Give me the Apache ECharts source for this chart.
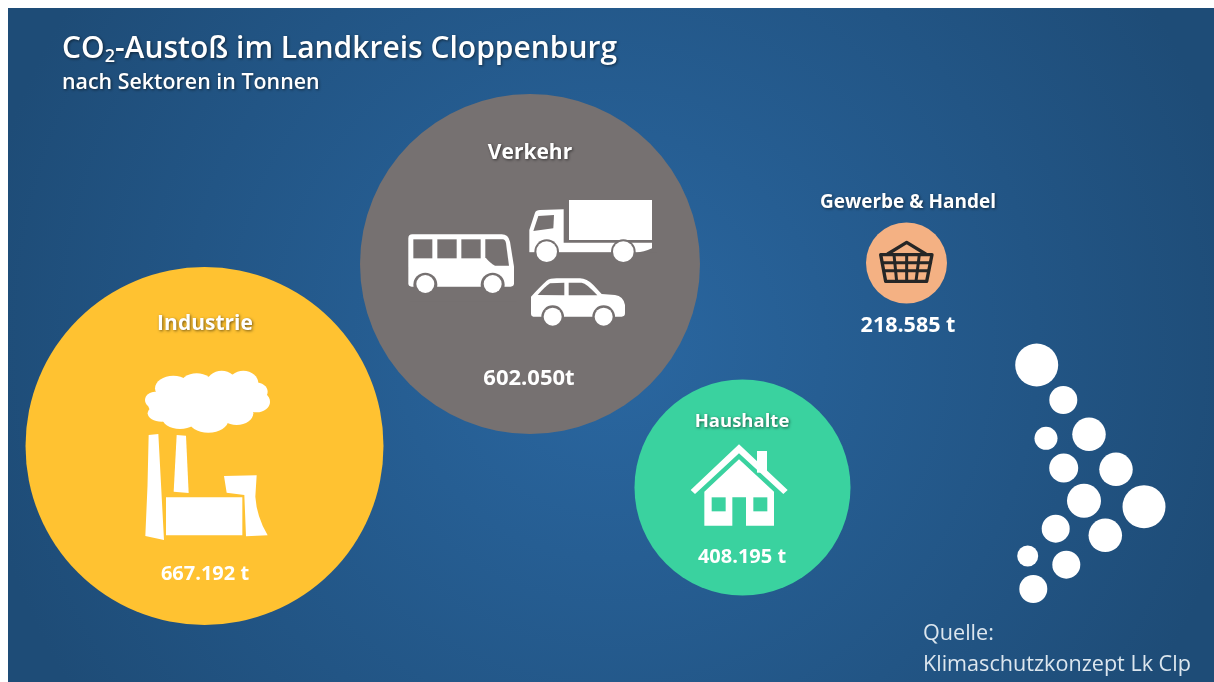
<!DOCTYPE html>
<html><head><meta charset="utf-8">
<style>html,body{margin:0;padding:0;background:#fff}#c{width:1214px;height:682px}</style>
<script src="https://cdn.jsdelivr.net/npm/echarts@6/dist/echarts.min.js"></script>
</head><body><div id="c"></div>
<script>
// ---- data ----
const sectors = ['Industrie', 'Verkehr', 'Haushalte', 'Gewerbe & Handel'];
const tonnes = [667192, 602050, 408195, 218585];
const valueLabels = ['667.192 t', '602.050t', '408.195 t', '218.585 t'];
const titleText = 'CO2-Austoß im Landkreis Cloppenburg';
const subtitleText = 'nach Sektoren in Tonnen';
const sourceLines = ['Quelle:', 'Klimaschutzkonzept Lk Clp'];

// ---- layout (the picture places bubbles freely; axes are hidden) ----
const bubbleX = [204.5, 530, 742.5, 906.5];
const bubbleY = [446, 264, 487.5, 263];
const bubbleD = [358, 340, 216, 81];
const bubbleColors = ['#FFC231', '#767171', '#3AD29F', '#F4B183'];
const nameX = [205, 530, 742, 908];
const nameY = [324, 153, 422, 203];
const nameSize = [21, 21, 18.5, 19];
const valueX = [205, 529, 742, 908];
const valueY = [574, 379, 557, 326];
const valueSize = [20, 22, 20, 21.5];
const logoX = [1036.7,1063.3,1046,1089,1063.7,1116,1084,1144,1055.7,1105.3,1027.7,1066.3,1033.3];
const logoY = [365,400,438.3,434.3,468,469.3,500.7,506.7,528.7,535.3,556,564.7,589];
const logoD = [43,28,23,33.5,29,33.5,34,43,28,33.5,21,28,28];
const iconX = [360, 100, 660, 660];
const iconY = [120, 300, 180, 180];

const FONT = '"Open Sans", sans-serif';
const WHITE = '#fff', GREY = bubbleColors[1], GREEN = bubbleColors[2], DARK = '#262626';
const shadow = {textShadowColor: 'rgba(0,0,0,0.55)', textShadowBlur: 3, textShadowOffsetX: 1, textShadowOffsetY: 1};

const p = (d, fill) => ({type: 'path', shape: {pathData: d}, style: {fill: fill || WHITE}});
const c = (cx, cy, r, fill) => ({type: 'circle', shape: {cx, cy, r}, style: {fill: fill || WHITE}});
const e = (cx, cy, rx, ry) => ({type: 'ellipse', shape: {cx, cy, rx, ry}, style: {fill: WHITE}});
const r = (x, y, width, height, fill) => ({type: 'rect', shape: {x, y, width, height}, style: {fill: fill || WHITE}});
const l = (d, w) => ({type: 'path', shape: {pathData: d}, style: {fill: 'none', stroke: DARK, lineWidth: w, lineJoin: 'round', lineCap: 'round'}});

const vehicles = [
  // bus
  p('M145,355 Q145,343 157,343 L425,343 Q445,343 450,365 L462,440 L462,490 Q462,500 452,500 L155,500 Q145,500 145,490 Z'),
  r(160, 358, 57, 57, GREY), r(232, 358, 58, 57, GREY), r(304, 358, 58, 57, GREY),
  p('M376,358 L428,358 Q436,358 438,370 L447,437 L405,437 Q390,430 376,412 Z', GREY),
  c(196, 494, 36, GREY), c(398, 494, 36, GREY), r(150, 505, 320, 40, GREY), c(196, 492, 27), c(398, 492, 27),
  // truck
  r(627, 240, 249, 120),
  p('M508,397 L508,330 L525,278 Q528,270 540,270 L611,268 L611,368 L876,368 L876,385 Q850,397 830,397 Z'),
  p('M535,288 L582,285 L580,325 L520,333 Z', GREY),
  c(560, 395, 37, GREY), c(790, 395, 37, GREY), r(500, 398, 390, 40, GREY), c(560, 395, 31), c(790, 395, 31),
  // car
  p('M513,530 Q540,500 560,482 Q570,475 590,475 L660,475 Q680,475 700,495 L725,522 L765,525 Q790,528 795,555 L795,580 Q795,590 785,590 L520,590 Q513,590 513,580 Z'),
  p('M533,525 Q555,500 570,490 L613,488 L613,526 Z', GREY),
  p('M626,488 L665,488 Q680,490 712,526 L626,526 Z', GREY),
  c(578, 590, 34, GREY), c(731, 590, 34, GREY), c(578, 590, 27), c(731, 590, 27)
];

const factory = [
  e(220, 265, 55, 38), e(290, 255, 50, 35), e(365, 250, 45, 38), e(430, 250, 45, 38),
  e(465, 275, 38, 28), e(470, 305, 40, 32), e(410, 340, 50, 35), e(325, 360, 60, 38),
  e(240, 350, 55, 37), e(185, 340, 42, 25), e(165, 300, 30, 25), e(320, 300, 150, 60),
  e(215, 315, 70, 40),
  p('M146,405 L175,402 L192,720 L136,708 Q144,560 146,405 Z'),
  p('M230,405 L258,407 L266,579 L221,575 Z'),
  r(198, 592, 229, 114),
  p('M372,528 L470,526 L466,590 Q470,650 503,706 L438,709 L433,585 L380,578 Z')
];

const house = [
  r(291, 813, 30, 65),
  p('M92,930 L237,793 L383,930 L370,942 L237,820 L105,942 Z'),
  p('M133,935 L237,838 L342,935 L342,1037 L258,1037 L258,952 L217,952 L217,1037 L133,1037 Z'),
  r(155, 952, 42, 42, GREEN), r(280, 952, 42, 42, GREEN)
];

const basket = [
  l('M683,222 L740,187 L797,222', 10),
  l('M662,224 L816,224 L800,304 L677,304 Z', 10),
  l('M668,248 L812,248', 9), l('M673,272 L806,272', 9),
  l('M702,224 L710,304', 9), l('M740,224 L740,304', 9), l('M778,224 L768,304', 9)
];
const icons = [vehicles, factory, house, basket];

const chart = echarts.init(document.getElementById('c'), null, {renderer: 'canvas'});
chart.setOption({
  animation: false,
  backgroundColor: '#fff',
  tooltip: {show: false},
  title: [
    {left: 57, top: 27, text: '{a|CO}{s|2}{a|' + titleText.slice(3) + '}',
      textStyle: {rich: {
        a: Object.assign({fontFamily: FONT, fontSize: 30, fontWeight: 600, color: WHITE}, shadow),
        s: Object.assign({fontFamily: FONT, fontSize: 18, fontWeight: 600, color: WHITE, padding: [16, 0, 0, 0]}, shadow)
      }}},
    {left: 57, top: 67, text: subtitleText,
      textStyle: Object.assign({fontFamily: FONT, fontSize: 21.4, fontWeight: 600, color: WHITE}, shadow)},
    {left: 918, top: 618, text: sourceLines[0],
      textStyle: {fontFamily: FONT, fontSize: 21.6, fontWeight: 400, color: '#DCE6EE'}},
    {left: 918, top: 649, text: sourceLines[1],
      textStyle: {fontFamily: FONT, fontSize: 21.6, fontWeight: 400, color: '#DCE6EE'}}
  ],
  grid: {left: 0, right: 0, top: 0, bottom: 0},
  xAxis: {type: 'value', min: 0, max: 1214, show: false},
  yAxis: {type: 'value', min: 0, max: 682, inverse: true, show: false},
  graphic: [
    {type: 'rect', silent: true, z: -10, shape: {x: 8, y: 8, width: 1206, height: 674},
      style: {fill: new echarts.graphic.RadialGradient(0.5, 0.5, 0.95, [
        {offset: 0, color: '#2A67A1'}, {offset: 1, color: '#1E4C77'}])}}
  ],
  series: [
    {name: 'CO2-Ausstoß', type: 'scatter', silent: true, z: 3,
      data: tonnes.map((v, i) => ({name: sectors[i], value: [bubbleX[i], bubbleY[i], v],
        symbolSize: bubbleD[i], itemStyle: {color: bubbleColors[i], opacity: 1}}))},
    {name: 'Logo', type: 'scatter', silent: true, z: 3,
      data: logoX.map((x, i) => ({value: [x, logoY[i]], symbolSize: logoD[i], itemStyle: {color: WHITE, opacity: 1}}))},
    {name: 'Symbole', type: 'custom', silent: true, z: 5, clip: false,
      encode: {x: 0, y: 1},
      data: iconX.map((x, i) => [x, iconY[i], i]),
      renderItem: (params, api) => {
        const pt = api.coord([api.value(0), api.value(1)]);
        return {type: 'group', x: pt[0], y: pt[1], scaleX: 1 / 3, scaleY: 1 / 3, children: icons[api.value(2)]};
      }},
    {name: 'Sektor', type: 'scatter', silent: true, z: 30, symbolSize: 1, itemStyle: {color: 'rgba(0,0,0,0)', opacity: 1},
      data: sectors.map((n, i) => ({value: [nameX[i], nameY[i]],
        label: Object.assign({show: true, opacity: 1, position: 'inside', formatter: n, fontFamily: FONT,
          fontSize: nameSize[i], fontWeight: 700, color: WHITE}, shadow)}))},
    {name: 'Wert', type: 'scatter', silent: true, z: 30, symbolSize: 1, itemStyle: {color: 'rgba(0,0,0,0)', opacity: 1},
      data: valueLabels.map((n, i) => ({value: [valueX[i], valueY[i]],
        label: {show: true, opacity: 1, position: 'inside', formatter: n, fontFamily: FONT,
          fontSize: valueSize[i], fontWeight: 700, color: WHITE}}))}
  ]
});
</script></body></html>
